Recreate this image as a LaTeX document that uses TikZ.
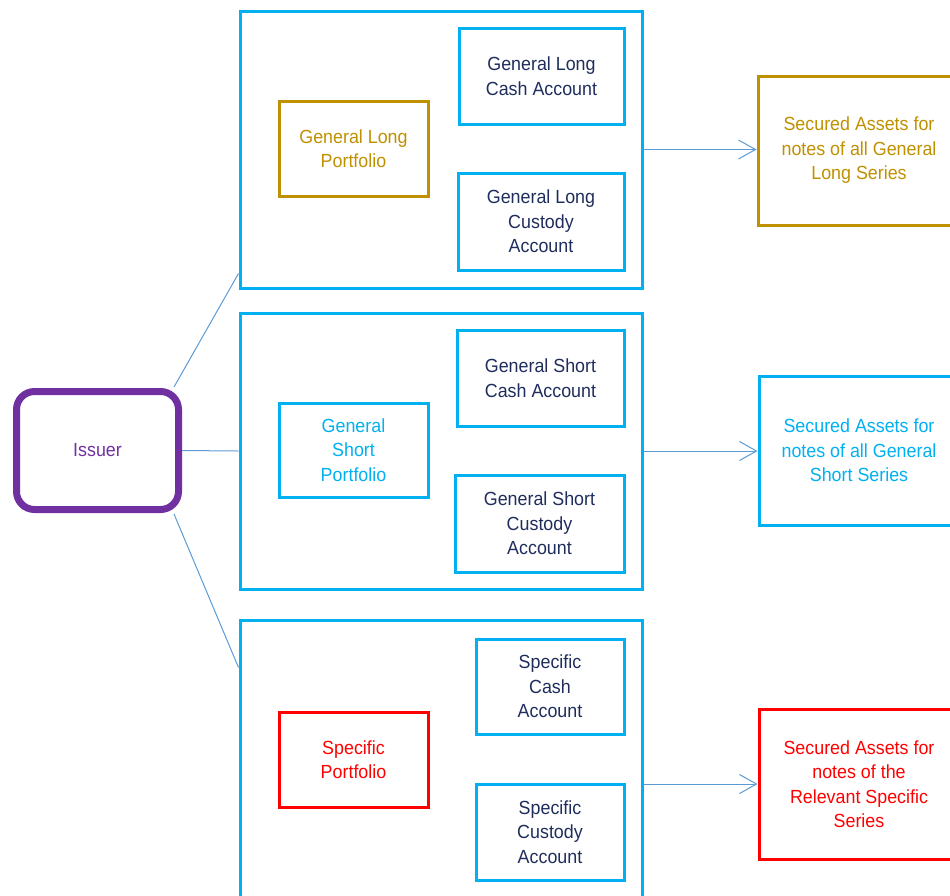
\documentclass[tikz,border=0pt]{standalone}
\usepackage{fontspec}
\setmainfont{Liberation Sans}[FakeStretch=0.94]
\usetikzlibrary{arrows.meta,calc}
\definecolor{cyanb}{HTML}{00B0F0}
\definecolor{goldb}{HTML}{BF9000}
\definecolor{redb}{HTML}{FF0000}
\definecolor{purpb}{HTML}{7030A0}
\definecolor{navyt}{HTML}{1F2D5C}
\definecolor{conn}{HTML}{5B9BD5}
\tikzset{
  box/.style={draw, line width=3pt, inner sep=0pt, align=center,
    font=\fontsize{19}{24.5}\selectfont},
  group/.style={box, draw=cyanb},
  acct/.style={box, draw=cyanb, text=navyt},
  goldbox/.style={box, draw=goldb, text=goldb},
  cyanbox/.style={box, draw=cyanb, text=cyanb},
  redbox/.style={box, draw=redb, text=redb},
  issuerbox/.style={box, draw=purpb, text=purpb, line width=7pt, rounded corners=18pt},
  link/.style={draw=conn, line width=1pt},
  arr/.style={link, -{Straight Barb[length=17pt,width=19pt]}}
}
\begin{document}
\begin{tikzpicture}[x=1pt,y=-1pt]
\useasboundingbox (0,0) rectangle (950,895);
\clip (0,0) rectangle (950,895);
% groups
\node[group, minimum width=402pt, minimum height=277pt] (g1) at (441,149.5) {};
\node[group, minimum width=402pt, minimum height=276pt] (g2) at (441,451) {};
\node[group, minimum width=402pt, minimum height=290pt] (g3) at (441,765) {};
% top
\node[acct, minimum width=165pt, minimum height=96pt] (glc) at (541.5,76) {General Long\\Cash Account};
\node[acct, minimum width=166pt, minimum height=97pt] (glu) at (541,221.5) {General Long\\Custody\\Account};
\node[goldbox, minimum width=149pt, minimum height=95pt] (glp) at (353.5,148.5) {General Long\\Portfolio};
\node[goldbox, minimum width=202pt, minimum height=149pt] (sa1) at (859,150.5) {Secured Assets for\\notes of all General\\Long Series};
% middle
\node[acct, minimum width=167pt, minimum height=96pt] (gsc) at (540.5,378) {General Short\\Cash Account};
\node[acct, minimum width=169pt, minimum height=97pt] (gsu) at (539.5,523.5) {General Short\\Custody\\Account};
\node[cyanbox, minimum width=149pt, minimum height=94pt] (gsp) at (353.5,450) {General\\Short\\Portfolio};
\node[cyanbox, minimum width=200pt, minimum height=149pt] (sa2) at (859,450.5) {Secured Assets for\\notes of all General\\Short Series};
% bottom
\node[acct, minimum width=148pt, minimum height=95pt] (spc) at (550,686.5) {Specific\\Cash\\Account};
\node[acct, minimum width=148pt, minimum height=96pt] (spu) at (550,832) {Specific\\Custody\\Account};
\node[redbox, minimum width=149pt, minimum height=95pt] (spp) at (353.5,759.5) {Specific\\Portfolio};
\node[redbox, minimum width=200pt, minimum height=150pt] (sa3) at (859,784) {Secured Assets for\\notes of the\\Relevant Specific\\Series};
% issuer
\node[issuerbox, minimum width=162pt, minimum height=118pt] (iss) at (97.5,450.5) {Issuer};
% connectors
\coordinate (i1) at ($(iss.north east)+(-8,-1)$);
\coordinate (i3) at ($(iss.south east)+(-8,1)$);
\coordinate (e1) at ($(g1.south west)+(0,-16)$);
\coordinate (e3) at ($(g3.north west)+(0,49)$);
\draw[link] (i1) -- (e1);
\draw[link] (iss.east) -- (g2.west);
\draw[link] (i3) -- (e3);
\draw[arr] (g1.east) -- (g1.east -| sa1.west);
\draw[arr] (g2.east) -- (g2.east -| sa2.west);
\draw[arr] (g3.east |- sa3.west) -- (sa3.west);
\end{tikzpicture}
\end{document}
